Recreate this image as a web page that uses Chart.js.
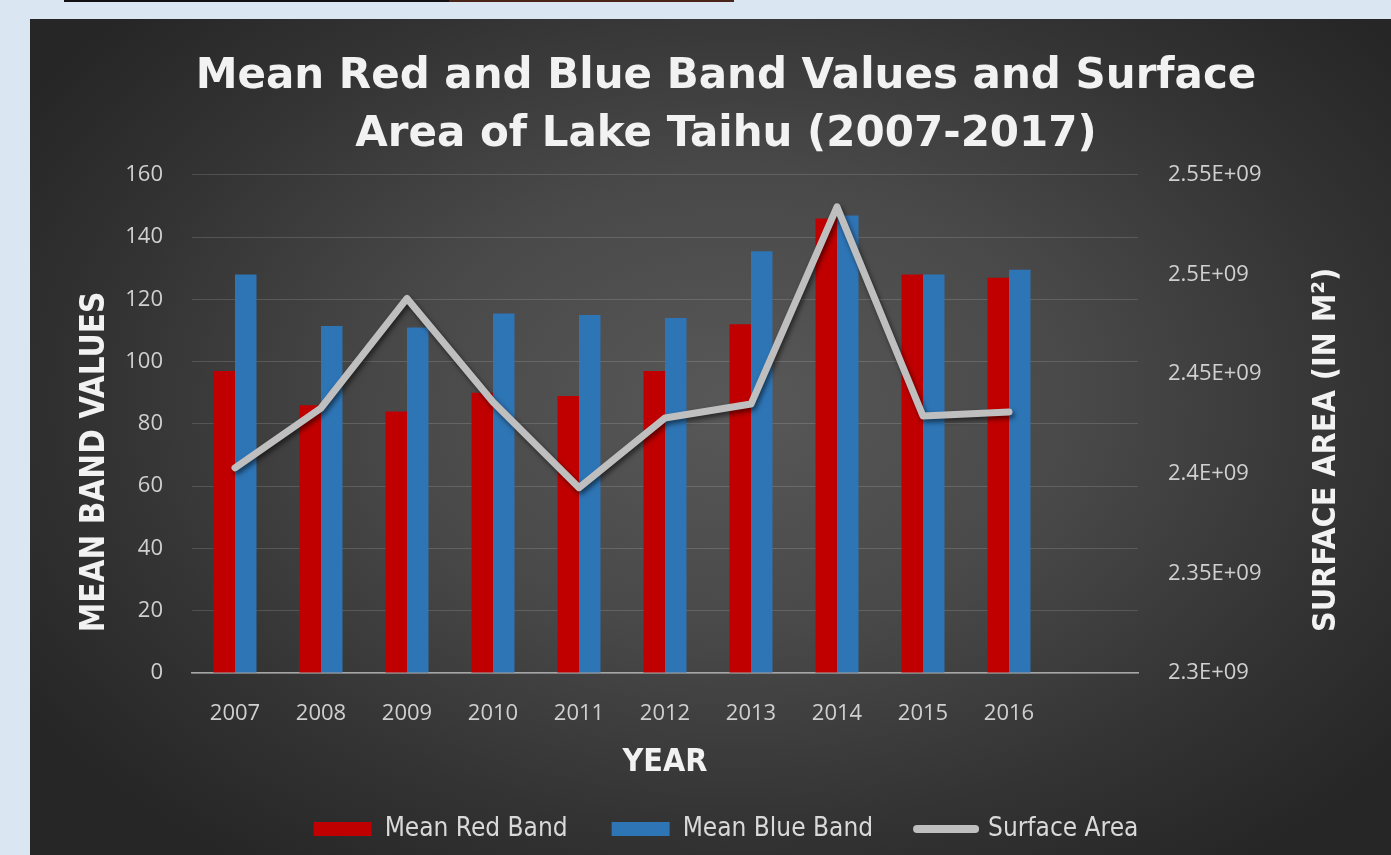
<!DOCTYPE html>
<html lang="en">
<head>
<meta charset="UTF-8">
<title>Lake Taihu Band Values</title>
<script src="https://cdn.jsdelivr.net/npm/chart.js"></script>
<style>
    * { margin: 0; padding: 0; box-sizing: border-box; }
    body {
        background: #dbe6f3;
        width: 1391px;
        height: 855px;
        overflow: hidden;
        position: relative;
    }
    .top-rule {
        position: absolute;
        left: 64px;
        top: 0;
        width: 670px;
        height: 2px;
        background: #111;
    }
    .top-rule::after {
        content: "";
        position: absolute;
        left: 385px;
        top: 0;
        width: 285px;
        height: 2px;
        background: #4a2418;
    }
    .panel {
        position: absolute;
        left: 30px;
        top: 19px;
        width: 1361px;
        height: 836px;
        background: radial-gradient(ellipse 62% 68% at 52% 46%, #585858 0%, #494949 40%, #333 75%, #262626 100%);
    }
</style>
</head>
<body>
<div class="top-rule"></div>
<div class="panel">
    <canvas id="bandChart"></canvas>
</div>

<script>
    // yearly values
    const years = ['2007', '2008', '2009', '2010', '2011', '2012', '2013', '2014', '2015', '2016', ''];
    const meanRed = [97, 86, 84, 90, 89, 97, 112, 146, 128, 127, null];
    const meanBlue = [128, 111.5, 111, 115.5, 115, 114, 135.5, 147, 128, 129.5, null];
    const surfaceArea = [2.403e9, 2.433e9, 2.488e9, 2.436e9, 2.393e9, 2.428e9, 2.435e9, 2.534e9, 2.429e9, 2.431e9, null];
    const areaTicks = ['2.3E+09', '2.35E+09', '2.4E+09', '2.45E+09', '2.5E+09', '2.55E+09'];

    const condensed = "'DejaVu Sans Condensed', 'Liberation Sans Narrow', 'DejaVu Sans'";
    const tickFont = { family: "'Open Sans', sans-serif", size: 22 };
    const tickColor = '#d0d0d0';
    const titleColor = '#f2f2f2';

    // shadow under the surface area line
    const lineShadow = {
        id: 'lineShadow',
        beforeDatasetDraw(chart, args) {
            if (chart.data.datasets[args.index].type !== 'line') return;
            const ctx = chart.ctx;
            ctx.save();
            ctx.shadowColor = 'rgba(0,0,0,0.55)';
            ctx.shadowBlur = 5;
            ctx.shadowOffsetX = 2;
            ctx.shadowOffsetY = 3;
        },
        afterDatasetDraw(chart, args) {
            if (chart.data.datasets[args.index].type !== 'line') return;
            chart.ctx.restore();
        }
    };

    // both vertical axis titles read bottom-to-top
    const sideTitles = {
        id: 'sideTitles',
        afterDraw(chart) {
            const ctx = chart.ctx;
            const area = chart.chartArea;
            const midY = (area.top + area.bottom) / 2;
            ctx.save();
            ctx.fillStyle = titleColor;
            ctx.textAlign = 'center';
            ctx.textBaseline = 'middle';

            ctx.save();
            ctx.font = 'bold 33px ' + condensed;
            ctx.translate(chart.scales.y.left + 17, midY + 38);
            ctx.rotate(-Math.PI / 2);
            ctx.fillText('MEAN BAND VALUES', 0, 0);
            ctx.restore();

            ctx.save();
            ctx.font = 'bold 32px ' + condensed;
            ctx.translate(chart.scales.y2.right - 47, midY + 26);
            ctx.rotate(-Math.PI / 2);
            ctx.fillText('SURFACE AREA (IN M²)', 0, 0);
            ctx.restore();

            ctx.restore();
        }
    };

    new Chart(document.getElementById('bandChart'), {
        type: 'bar',
        data: {
            labels: years,
            datasets: [
                {
                    label: 'Mean Red Band',
                    data: meanRed,
                    backgroundColor: '#c00000',
                    yAxisID: 'y',
                    order: 1
                },
                {
                    label: 'Mean Blue Band',
                    data: meanBlue,
                    backgroundColor: '#2e75b6',
                    yAxisID: 'y',
                    order: 1
                },
                {
                    type: 'line',
                    label: 'Surface Area',
                    data: surfaceArea,
                    borderColor: '#bfbfbf',
                    backgroundColor: '#bfbfbf',
                    borderWidth: 7,
                    borderCapStyle: 'round',
                    borderJoinStyle: 'round',
                    pointRadius: 0,
                    tension: 0,
                    yAxisID: 'y2',
                    order: 0
                }
            ]
        },
        options: {
            responsive: true,
            maintainAspectRatio: false,
            animation: false,
            datasets: {
                bar: { categoryPercentage: 0.5, barPercentage: 1.0 }
            },
            layout: { padding: { left: 48, right: 17, top: 0, bottom: 3 } },
            plugins: {
                tooltip: { enabled: false },
                title: {
                    display: true,
                    text: ['Mean Red and Blue Band Values and Surface', 'Area of Lake Taihu (2007-2017)'],
                    color: titleColor,
                    font: { family: "'DejaVu Sans', sans-serif", weight: 'bold', size: 42, lineHeight: 1.38 },
                    padding: { top: 29, bottom: 11 }
                },
                legend: {
                    position: 'bottom',
                    maxHeight: 80,
                    labels: {
                        color: '#d9d9d9',
                        font: { family: condensed, size: 26 },
                        usePointStyle: true,
                        pointStyleWidth: 58,
                        boxHeight: 14,
                        padding: 44,
                        generateLabels: chart => chart.data.datasets.map((ds, i) => ({
                            text: ds.label,
                            fillStyle: ds.backgroundColor,
                            strokeStyle: ds.type === 'line' ? ds.borderColor : ds.backgroundColor,
                            lineWidth: ds.type === 'line' ? 8 : 0,
                            lineCap: 'round',
                            pointStyle: ds.type === 'line' ? 'line' : 'rect',
                            fontColor: '#d9d9d9',
                            hidden: false,
                            datasetIndex: i
                        }))
                    }
                }
            },
            scales: {
                x: {
                    offset: true,
                    grid: { display: false },
                    border: { color: '#a6a6a6', width: 1.5 },
                    ticks: { color: tickColor, font: tickFont, padding: 20, autoSkip: false, maxRotation: 0 },
                    title: {
                        display: true,
                        text: 'YEAR',
                        color: titleColor,
                        font: { family: condensed, weight: 'bold', size: 32, lineHeight: 0.6 },
                        padding: 0
                    },
                    afterFit(scale) { scale.height = 99; }
                },
                y: {
                    position: 'left',
                    min: 0,
                    max: 160,
                    ticks: { stepSize: 20, color: tickColor, font: tickFont, padding: 29 },
                    grid: { color: 'rgba(255,255,255,0.14)', drawTicks: false },
                    border: { display: false },
                    afterFit(scale) { scale.width = 114; }
                },
                y2: {
                    position: 'right',
                    min: 2.3e9,
                    max: 2.55e9,
                    ticks: {
                        stepSize: 0.05e9,
                        color: tickColor,
                        font: tickFont,
                        padding: 30,
                        callback: (value, index) => areaTicks[index]
                    },
                    grid: { drawOnChartArea: false, drawTicks: false },
                    border: { display: false },
                    afterFit(scale) { scale.width = 236; }
                }
            }
        },
        plugins: [lineShadow, sideTitles]
    });
</script>
</body>
</html>
